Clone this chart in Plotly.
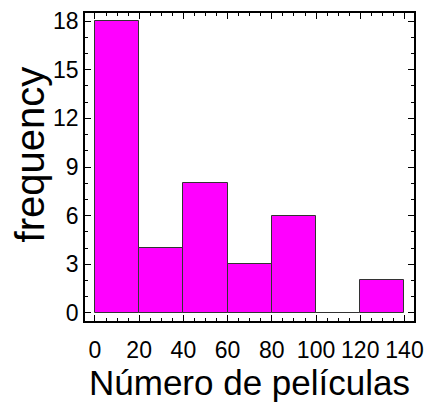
import plotly.graph_objects as go

bin_edges = [0, 20, 40, 60, 80, 100, 120, 140]
counts = [18, 4, 8, 3, 6, 0, 2]
x_ticks = [0, 20, 40, 60, 80, 100, 120, 140]
y_ticks = [0, 3, 6, 9, 12, 15, 18]

centers = [(a + b) / 2 for a, b in zip(bin_edges[:-1], bin_edges[1:])]
widths = [b - a for a, b in zip(bin_edges[:-1], bin_edges[1:])]

fig = go.Figure(go.Bar(
    x=centers, y=counts, width=widths,
    marker=dict(color="#FF00FF", line=dict(color="#333333", width=1)),
))

font = "Liberation Sans, Arial, sans-serif"
fig.update_layout(
    width=430, height=405,
    margin=dict(l=85, r=16, t=13, b=84),
    paper_bgcolor="white", plot_bgcolor="white",
    showlegend=False,
    font=dict(family=font, color="black", size=23),
    bargap=0,
    annotations=[dict(
        text="frequency", textangle=-90, xref="paper", yref="paper",
        x=-0.168, y=0.54, xanchor="center", yanchor="middle", showarrow=False,
        font=dict(size=40, family=font, color="black"),
    )],
)
fig.update_xaxes(
    range=[-4.5, 144.3], tickvals=x_ticks, ticks="inside", ticklen=6, tickwidth=1.2,
    tickcolor="black", showline=True, linecolor="black", linewidth=1.5,
    mirror="allticks", showgrid=False, zeroline=False, automargin=False,
    minor=dict(dtick=5, tick0=0, ticks="inside", ticklen=3, tickcolor="black", showgrid=False),
    tickfont=dict(size=23, family=font), ticklabelstandoff=8,
    title=dict(text="Número de películas", font=dict(size=35, family=font), standoff=4),
)
fig.update_yaxes(
    range=[-0.5, 18.5], tickvals=y_ticks, ticks="inside", ticklen=6, tickwidth=1.2,
    tickcolor="black", showline=True, linecolor="black", linewidth=1.5,
    mirror="allticks", showgrid=False, zeroline=False, automargin=False,
    minor=dict(dtick=1, tick0=0, ticks="inside", ticklen=3, tickcolor="black", showgrid=False),
    tickfont=dict(size=23, family=font),
)

fig.write_html("out.html", config={"displayModeBar": False},
               post_script="document.body.style.margin='0';document.body.style.overflow='hidden';")
